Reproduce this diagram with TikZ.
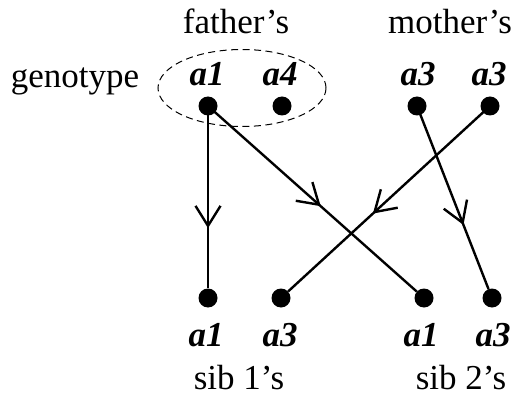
\documentclass[tikz,border=0pt]{standalone}
\usepackage{fontspec}
\setmainfont{Liberation Serif}
\usetikzlibrary{arrows.meta,decorations.markings,shapes.geometric}
\tikzset{
  dot/.style={circle,fill=black,inner sep=0pt,minimum size=19pt},
  lbl/.style={font=\fontsize{35}{40}\selectfont,anchor=base,inner sep=0pt},
  allele/.style={font=\fontsize{35}{40}\selectfont\bfseries\itshape,anchor=base,inner sep=0pt},
  link/.style={line width=2.4pt},
  barbat/.style={postaction={decorate,decoration={markings,
     mark=at position #1 with {\arrow{Straight Barb[length=20pt,width=25pt,line width=2.4pt]}}}}}
}
\begin{document}
\begin{tikzpicture}[x=1pt,y=-1pt]
\useasboundingbox (0,0) rectangle (527,398);
% headings
\node[lbl] (fh) at (236,34) {father's};
\node[lbl] (mh) at (450,34) {mother's};
\node[lbl] (gt) at (75,88) {genotype};
% top alleles
\node[allele] (ta1) at (207,86) {a1};
\node[allele] (ta4) at (280,86) {a4};
\node[allele] (tm1) at (418,86) {a3};
\node[allele] (tm2) at (489,86) {a3};
% dashed ellipse
\node[draw,ellipse,line width=1pt,minimum width=168pt,minimum height=77pt,inner sep=0pt,dash pattern=on 7pt off 4.5pt] (gen) at (242,88) {};
% dots
\node[dot] (f1) at (208,106) {};
\node[dot] (f2) at (282,106) {};
\node[dot] (m1) at (417,106) {};
\node[dot] (m2) at (490,106) {};
\node[dot] (s11) at (208,298) {};
\node[dot] (s12) at (281,298) {};
\node[dot] (s21) at (424,298) {};
\node[dot] (s22) at (492,298) {};
% connectors
\draw[link,barbat=0.67] (f1.center) -- (s11);
\draw[link,barbat=0.54] (f1.center) -- (s21);
\draw[link,barbat=0.58] (m2.center) -- (s12);
\draw[link,barbat=0.65] (m1.center) -- (s22);
% bottom alleles
\node[allele] (ba1) at (206,346) {a1};
\node[allele] (ba2) at (280,346) {a3};
\node[allele] (ba3) at (421,346) {a1};
\node[allele] (ba4) at (493,346) {a3};
% sib labels
\node[lbl] (sb1) at (239,389) {sib 1's};
\node[lbl] (sb2) at (461,389) {sib 2's};
\end{tikzpicture}
\end{document}
